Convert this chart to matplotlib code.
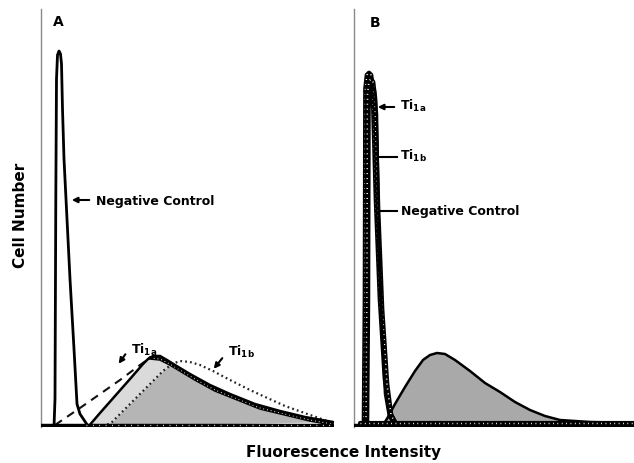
import numpy as np
import matplotlib
matplotlib.use("Agg")
import matplotlib.pyplot as plt

plt.rcParams['font.family'] = ['DejaVu Sans']
plt.rcParams['font.weight'] = 'bold'
plt.rcParams['mathtext.fontset'] = 'custom'
plt.rcParams['mathtext.rm'] = 'DejaVu Sans:bold'
plt.rcParams['mathtext.it'] = 'DejaVu Sans:bold'
plt.rcParams['mathtext.bf'] = 'DejaVu Sans:bold'

###
### Data (channel, cell count)
###
# panel A
neg_a_x  = [13, 14, 14.8, 15.5, 16.5, 18, 19.5, 20.5, 21.5, 23, 25, 29, 33, 36, 39, 47]
neg_a_y  = [0, 28, 228, 348, 372, 376, 373, 363, 318, 268, 228, 148, 78, 23, 13, 1]
ti1a_a_x = [47, 59, 74, 89, 102, 107, 112, 119, 126, 134, 149, 169, 189, 214, 239, 264, 292]
ti1a_a_y = [0, 14, 31, 48, 63, 68, 71, 71, 67, 62, 53, 42, 33, 23, 16, 10, 5]
dash_a_x = [14, 39, 59, 79, 99, 109, 119, 129, 139, 154, 174, 194, 219, 244, 269, 291]
dash_a_y = [2, 19, 33, 47, 62, 69, 68, 63, 57, 48, 37, 29, 19, 13, 7, 3]
ti1b_a_x = [62, 71, 94, 122, 131, 139, 149, 159, 172, 189, 209, 222, 244, 272, 292]
ti1b_a_y = [0, 5, 28, 56, 63, 66, 65, 62, 56, 47, 37, 31, 21, 11, 4]

# panel B
ti1a_b_x = [10, 11, 11.5, 13, 15, 17, 19, 22, 26, 31, 36, 42]
ti1a_b_y = [0, 128, 338, 352, 354, 352, 333, 228, 128, 48, 14, 3]
ti1b_b_x = [12, 13, 13.5, 15, 17, 19, 21, 24, 28, 33, 37, 42]
ti1b_b_y = [0, 128, 333, 346, 348, 345, 328, 218, 118, 43, 12, 2]
neg_b_x  = [14, 15, 15.5, 17, 19, 21, 23, 25, 28, 31, 35, 42]
neg_b_y  = [0, 128, 318, 338, 340, 336, 313, 198, 98, 33, 10, 1]
pos_b_x  = [28, 34, 41, 51, 61, 69, 76, 83, 91, 101, 116, 131, 146, 161, 176, 191, 206, 236, 280]
pos_b_y  = [0, 10, 23, 40, 56, 67, 72, 74, 73, 67, 56, 44, 35, 25, 17, 11, 7, 5, 4]

W, H = 634, 464
fig = plt.figure(figsize=(W/100, H/100), dpi=100)
axA = fig.add_axes([41/W, 36/H, 293/W, 418/H])
axB = fig.add_axes([354/W, 36/H, 280/W, 418/H])

for ax, xmax in ((axA, 293), (axB, 280)):
    ax.set_xlim(0, xmax)
    ax.set_ylim(0, 418)
    for s in ('top', 'right', 'bottom'):
        ax.spines[s].set_visible(False)
    ax.spines['left'].set_color('#8a8a8a')
    ax.spines['left'].set_linewidth(1.0)
    ax.set_xticks([])
    ax.set_yticks([])
    ax.patch.set_alpha(0)

def beaded(ax, x, y, lw=3.2, z=5):
    ax.plot(x, y, color='black', lw=lw, zorder=z, solid_capstyle='round')
    ax.plot(x, y, color='white', lw=lw*0.35, ls=(0, (0.6, 2.4)), zorder=z+0.1)

###
### Panel A
###
ax = axA
poly, = ax.fill(ti1a_a_x, ti1a_a_y, color='#dadada', lw=0, zorder=1)
dark = ax.fill_between(ti1b_a_x, 0, ti1b_a_y, color='#b5b5b5', lw=0, zorder=2)
dark.set_clip_path(poly)
ax.plot(ti1b_a_x, ti1b_a_y, color='#222222', lw=1.6, ls=(0, (0.8, 1.4)), zorder=3)
ax.plot(dash_a_x[:6], dash_a_y[:6], color='#111111', lw=1.5, ls=(0, (4, 3)), zorder=3)
beaded(ax, dash_a_x[5:], dash_a_y[5:], lw=2.6, z=3)
ax.plot(ti1a_a_x, ti1a_a_y, color='black', lw=1.8, zorder=4)
ax.plot(neg_a_x, neg_a_y, color='black', lw=2.0, zorder=4)
ax.plot([0, 293], [1, 1], color='black', lw=3.2, zorder=6)
ax.plot([45, 292], [2, 2], color='white', lw=1.0, ls=(0, (0.6, 4)), zorder=6.1)

ax.text(17, 406, 'A', fontsize=10, ha='center', va='center')
ax.annotate('', xy=(28, 227), xytext=(51, 227),
            arrowprops=dict(arrowstyle='-|>', color='black', lw=1.5, mutation_scale=8))
ax.text(55, 227, 'Negative Control', fontsize=9, va='center')
ax.annotate('', xy=(76, 61), xytext=(86, 75),
            arrowprops=dict(arrowstyle='-|>', color='black', lw=1.5, mutation_scale=8))
ax.text(90, 78, r'Ti$_{1a}$', fontsize=9, va='center')
ax.annotate('', xy=(171, 56), xytext=(183, 71),
            arrowprops=dict(arrowstyle='-|>', color='black', lw=1.5, mutation_scale=8))
ax.text(187, 76, r'Ti$_{1b}$', fontsize=9, va='center')

###
### Panel B
###
ax = axB
ax.fill(pos_b_x, pos_b_y, color='#a9a9a9', lw=0, zorder=1)
ax.plot(pos_b_x, pos_b_y, color='black', lw=1.8, zorder=4)
beaded(ax, ti1a_b_x, ti1a_b_y, lw=3.4, z=5)
beaded(ax, ti1b_b_x, ti1b_b_y, lw=3.4, z=5.2)
ax.plot(neg_b_x, neg_b_y, color='black', lw=1.8, zorder=5.5)
ax.plot([0, 280], [1, 1], color='black', lw=3.2, zorder=6)
beaded(ax, [6, 280], [4, 4], lw=3.0, z=6.2)

ax.text(21, 405, 'B', fontsize=10, ha='center', va='center')
ax.annotate('', xy=(21, 320), xytext=(43, 320),
            arrowprops=dict(arrowstyle='-|>', color='black', lw=1.5, mutation_scale=8))
ax.text(46, 322, r'Ti$_{1a}$', fontsize=9, va='center')
ax.plot([22, 43], [270, 270], color='black', lw=1.5)
ax.text(46, 272, r'Ti$_{1b}$', fontsize=9, va='center')
ax.plot([23, 43], [216, 216], color='black', lw=1.5)
ax.text(47, 216, 'Negative Control', fontsize=9, va='center')

fig.text(21/W, 1 - 215/H, 'Cell Number', rotation=90, fontsize=11,
         ha='center', va='center')
fig.text(344/W, 1 - 453/H, 'Fluorescence Intensity', fontsize=11,
         ha='center', va='center')

fig.savefig('out.png', dpi=100)
